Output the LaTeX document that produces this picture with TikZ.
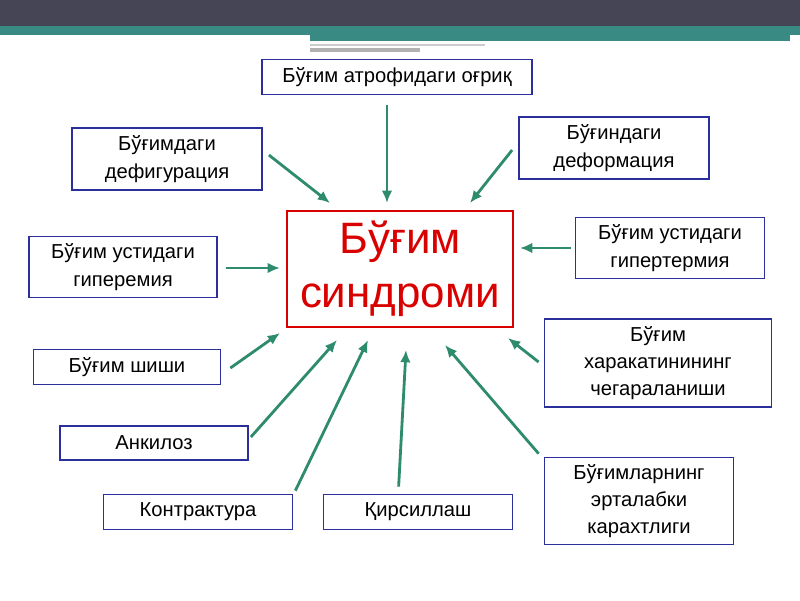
\documentclass[tikz,border=0pt]{standalone}
\usepackage{fontspec}
\setmainfont{Liberation Sans}
\usetikzlibrary{arrows.meta}
\definecolor{boxblue}{HTML}{2B2F9A}
\definecolor{arrgreen}{HTML}{2E8B6E}
\definecolor{bandgray}{HTML}{454556}
\definecolor{bandteal}{HTML}{3A8A84}
\begin{document}
\begin{tikzpicture}[x=0.02cm, y=-0.02cm, >={Latex[length=7pt,width=6pt]}]
	\tikzstyle{block} = [draw=boxblue, line width=1pt, rectangle, align=center, font=\fontsize{11.5}{15.5}\selectfont, inner sep=0pt]
	\tikzstyle{link} = [->, draw=arrgreen, line width=1.6pt]

	\useasboundingbox (0,0) rectangle (800,600);
	% banner
	\fill [bandgray] (0,0) rectangle (800,26);
	\fill [bandteal] (0,26) rectangle (800,35);
	\fill [bandteal] (310,35) rectangle (790,41);
	\fill [gray!60] (310,48) rectangle (420,52);
	\fill [gray!40] (310,44) rectangle (485,46);

	\node [draw=red!85!black, line width=1.2pt, minimum width=226*0.02cm, minimum height=116*0.02cm, align=center, font=\fontsize{25}{31}\selectfont, text=red!85!black] (main) at (400,269) {Бўғим\\ синдроми};

	\node [block, minimum width=270*0.02cm, minimum height=35*0.02cm] (atrof) at (397,77) {Бўғим атрофидаги оғриқ};
	\node [block, minimum width=190*0.02cm, minimum height=62*0.02cm] (defig) at (167,159) {Бўғимдаги\\ дефигурация};
	\node [block, minimum width=190*0.02cm, minimum height=62*0.02cm] (deform) at (614,148) {Бўғиндаги\\ деформация};
	\node [block, minimum width=188*0.02cm, minimum height=61*0.02cm] (hyperem) at (123,267) {Бўғим устидаги\\ гиперемия};
	\node [block, minimum width=189*0.02cm, minimum height=61*0.02cm] (hyperterm) at (670,248) {Бўғим устидаги\\ гипертермия};
	\node [block, minimum width=187*0.02cm, minimum height=35*0.02cm] (shish) at (127,367) {Бўғим шиши};
	\node [block, minimum width=227*0.02cm, minimum height=88*0.02cm] (harakat) at (658,363) {Бўғим\\ харакатинининг\\ чегараланиши};
	\node [block, minimum width=188*0.02cm, minimum height=34*0.02cm] (ankil) at (154,443) {Анкилоз};
	\node [block, minimum width=189*0.02cm, minimum height=87*0.02cm] (karaht) at (639,501) {Бўғимларнинг\\ эрталабки\\ карахтлиги};
	\node [block, minimum width=189*0.02cm, minimum height=35*0.02cm] (kontr) at (198,512) {Контрактура};
	\node [block, minimum width=189*0.02cm, minimum height=35*0.02cm] (kirs) at (418,512) {Қирсиллаш};

	% arrow heads stop short of the centre box
	\coordinate (e1) at (387,203);
	\coordinate (e2) at (330,203);
	\coordinate (e3) at (470,203);
	\coordinate (e5) at (280,268);
	\coordinate (e6) at (520,248);
	\coordinate (e7) at (280,333);
	\coordinate (e8) at (508,338);
	\coordinate (e9) at (337,340);
	\coordinate (e10) at (445,345);
	\coordinate (e11) at (368,340);
	\coordinate (e12) at (406,350);

	\draw [link] (atrof.south -| e1) ++(0,10) -- (e1);
	\draw [link] (defig.east) ++(6,-4) -- (e2);
	\draw [link] (deform.west) ++(-6,2) -- (e3);
	\draw [link] (hyperem.east) ++(8,1) -- (e5);
	\draw [link] (hyperterm.west) ++(-4,0) -- (e6);
	\draw [link] (shish.east) ++(9,1) -- (e7);
	\draw [link] (harakat.west) ++(-5,-1) -- (e8);
	\draw [link] (ankil.east) ++(2,-6) -- (e9);
	\draw [link] (karaht.north west) ++(-5,-3) -- (e10);
	\draw [link] (kontr.north east) ++(2,-3) -- (e11);
	\draw [link] (kirs.north west) ++(76,-7) -- (e12);
\end{tikzpicture}
\end{document}
